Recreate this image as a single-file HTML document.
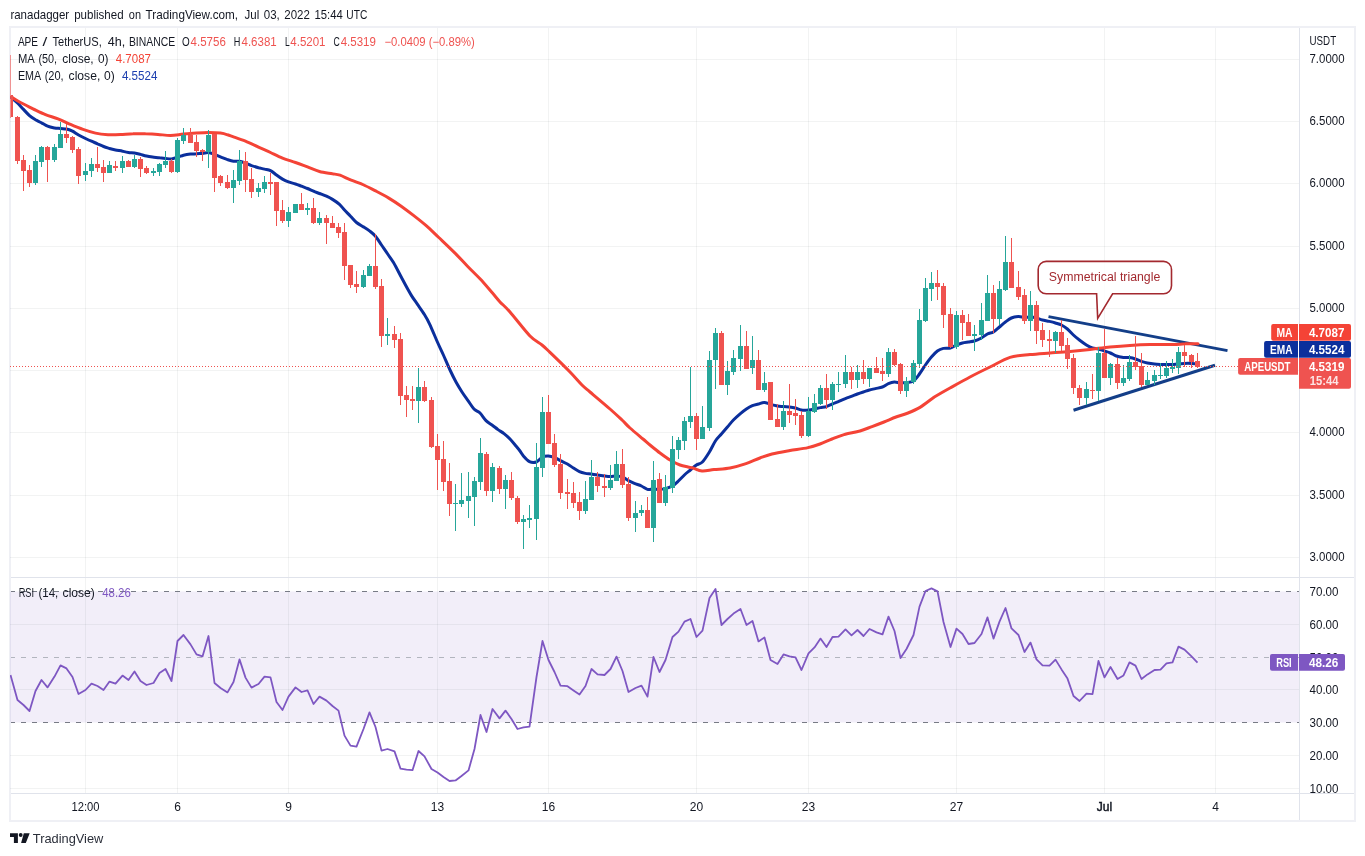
<!DOCTYPE html><html><head><meta charset="utf-8"><title>APEUSDT chart</title>
<style>html,body{margin:0;padding:0;background:#fff;}body{width:1365px;height:856px;overflow:hidden;position:relative;font-family:"Liberation Sans",sans-serif;}svg{position:absolute;left:0;top:0;}text{font-family:"Liberation Sans",sans-serif;}</style></head><body>
<svg width="1365" height="856" viewBox="0 0 1365 856">
<rect width="1365" height="856" fill="#fff"/>
<text y="19" font-size="13" fill="#131722"><tspan x="10.4" textLength="58.8" lengthAdjust="spacingAndGlyphs">ranadagger</tspan> <tspan x="74.2" textLength="49.4" lengthAdjust="spacingAndGlyphs">published</tspan> <tspan x="128.8" textLength="12.2" lengthAdjust="spacingAndGlyphs">on</tspan> <tspan x="145.6" textLength="92.5" lengthAdjust="spacingAndGlyphs">TradingView.com,</tspan> <tspan x="244.5" textLength="14.7" lengthAdjust="spacingAndGlyphs">Jul</tspan> <tspan x="263.8" textLength="16" lengthAdjust="spacingAndGlyphs">03,</tspan> <tspan x="284.3" textLength="25.6" lengthAdjust="spacingAndGlyphs">2022</tspan> <tspan x="314.5" textLength="28.3" lengthAdjust="spacingAndGlyphs">15:44</tspan> <tspan x="346.3" textLength="21" lengthAdjust="spacingAndGlyphs">UTC</tspan></text>
<rect x="10" y="27" width="1345" height="794" fill="#fff" stroke="#eff0f5" stroke-width="2"/>
<defs><clipPath id="pane"><rect x="11" y="28" width="1288" height="765"/></clipPath><clipPath id="main"><rect x="10" y="28" width="1289" height="549"/></clipPath><clipPath id="rsi"><rect x="10" y="578" width="1289" height="215"/></clipPath></defs>
<rect x="10" y="591.5" width="1289" height="131" fill="#7e57c2" fill-opacity="0.1"/>
<g shape-rendering="crispEdges" fill="rgba(42,46,57,0.06)">
<rect x="85" y="28" width="1" height="765" fill-opacity="1"/>
<rect x="177" y="28" width="1" height="765" fill-opacity="1"/>
<rect x="288" y="28" width="1" height="765" fill-opacity="1"/>
<rect x="437" y="28" width="1" height="765" fill-opacity="1"/>
<rect x="548" y="28" width="1" height="765" fill-opacity="1"/>
<rect x="696" y="28" width="1" height="765" fill-opacity="1"/>
<rect x="808" y="28" width="1" height="765" fill-opacity="1"/>
<rect x="956" y="28" width="1" height="765" fill-opacity="1"/>
<rect x="1104" y="28" width="1" height="765" fill-opacity="1"/>
<rect x="1215" y="28" width="1" height="765" fill-opacity="1"/>
<rect x="10" y="59" width="1289" height="1"/>
<rect x="10" y="121" width="1289" height="1"/>
<rect x="10" y="183" width="1289" height="1"/>
<rect x="10" y="246" width="1289" height="1"/>
<rect x="10" y="308" width="1289" height="1"/>
<rect x="10" y="370" width="1289" height="1"/>
<rect x="10" y="432" width="1289" height="1"/>
<rect x="10" y="495" width="1289" height="1"/>
<rect x="10" y="557" width="1289" height="1"/>
<rect x="10" y="624" width="1289" height="1"/>
<rect x="10" y="689" width="1289" height="1"/>
<rect x="10" y="755" width="1289" height="1"/>
<rect x="10" y="788" width="1289" height="1"/>
</g>
<g shape-rendering="crispEdges" fill="#e0e3eb">
<rect x="11" y="577" width="1343" height="1"/>
<rect x="11" y="793" width="1343" height="1"/>
<rect x="1299" y="28" width="1" height="792"/>
</g>
<g shape-rendering="crispEdges" stroke-width="1" stroke-dasharray="5 6" stroke-dashoffset="1">
<line x1="11" x2="1299" y1="591.5" y2="591.5" stroke="#787b86"/>
<line x1="11" x2="1299" y1="657.5" y2="657.5" stroke="#b2b5be"/>
<line x1="11" x2="1299" y1="722.5" y2="722.5" stroke="#787b86"/>
</g>
<g clip-path="url(#main)" fill="none">
<line x1="1048.5" y1="316.6" x2="1227.5" y2="350.6" stroke="#133e88" stroke-width="3" stroke-linecap="butt"/>
<line x1="1073.5" y1="410.2" x2="1215" y2="365.2" stroke="#133e88" stroke-width="3" stroke-linecap="butt"/>
</g>
<g clip-path="url(#main)" fill="none" stroke-linejoin="round" stroke-linecap="round">
<path d="M11.4 97.5 C12.4 98.4 15.6 101.1 17.5 103.0 C19.4 104.9 21.6 107.4 23.5 109.4 C25.4 111.4 27.6 113.9 29.5 115.6 C31.4 117.3 33.6 118.6 35.5 119.8 C37.4 120.9 39.6 121.7 41.5 122.8 C43.4 123.8 45.5 125.4 47.6 126.2 C49.7 127.1 52.4 127.6 54.5 128.0 C56.6 128.4 58.6 128.3 60.5 128.5 C62.4 128.7 64.6 128.6 66.5 129.0 C68.4 129.4 70.6 130.3 72.5 131.2 C74.4 132.2 76.5 133.8 78.6 135.0 C80.7 136.2 83.4 137.5 85.5 138.5 C87.6 139.5 89.6 140.4 91.5 141.2 C93.4 142.1 95.6 142.9 97.5 143.8 C99.4 144.6 101.7 145.7 103.6 146.5 C105.5 147.3 107.6 147.9 109.5 148.5 C111.4 149.1 113.4 149.6 115.5 150.0 C117.6 150.4 120.4 150.8 122.5 151.2 C124.6 151.7 126.6 152.2 128.5 152.5 C130.4 152.8 132.6 152.7 134.5 153.0 C136.4 153.3 138.6 153.9 140.5 154.4 C142.4 154.9 144.6 155.6 146.5 156.0 C148.4 156.4 150.4 156.7 152.5 157.0 C154.6 157.3 157.4 157.5 159.5 157.8 C161.6 158.0 163.6 158.2 165.5 158.4 C167.4 158.6 169.6 159.1 171.5 158.9 C173.4 158.7 175.6 157.8 177.5 157.2 C179.4 156.7 181.4 155.8 183.5 155.2 C185.6 154.7 188.4 154.3 190.5 154.1 C192.6 153.9 194.6 153.9 196.5 153.8 C198.4 153.6 200.6 153.6 202.5 153.4 C204.4 153.2 206.6 152.3 208.5 152.5 C210.4 152.7 212.6 153.7 214.5 154.4 C216.4 155.1 218.4 156.1 220.5 156.9 C222.6 157.7 225.4 158.9 227.5 159.6 C229.6 160.3 231.6 161.0 233.5 161.2 C235.4 161.5 237.6 161.0 239.5 161.2 C241.4 161.5 243.6 162.4 245.5 163.1 C247.4 163.8 249.4 164.9 251.5 165.6 C253.6 166.3 256.4 167.2 258.5 167.8 C260.6 168.3 262.6 168.6 264.5 169.1 C266.4 169.6 268.6 169.7 270.5 170.6 C272.4 171.5 274.6 173.6 276.5 175.0 C278.4 176.4 280.6 178.0 282.5 179.1 C284.4 180.2 286.4 181.1 288.5 181.9 C290.6 182.7 293.4 183.3 295.5 184.0 C297.6 184.7 299.6 185.5 301.5 186.2 C303.4 187.0 305.6 187.7 307.5 188.5 C309.4 189.3 311.6 190.4 313.5 191.2 C315.4 192.1 317.4 192.7 319.5 193.5 C321.6 194.3 324.4 195.3 326.5 196.2 C328.6 197.2 330.4 198.1 332.5 199.4 C334.6 200.7 337.6 202.7 339.5 204.4 C341.4 206.1 342.7 208.1 344.5 210.0 C346.3 211.9 348.6 214.2 350.5 216.2 C352.4 218.2 354.4 220.8 356.5 222.5 C358.6 224.2 361.4 225.6 363.5 226.9 C365.6 228.2 367.6 229.4 369.5 230.9 C371.4 232.4 373.6 234.0 375.5 236.2 C377.4 238.5 379.6 242.2 381.5 245.0 C383.4 247.8 385.6 250.9 387.5 253.8 C389.4 256.6 391.6 259.3 393.5 262.5 C395.4 265.7 397.6 270.1 399.5 273.8 C401.4 277.4 403.6 281.5 405.5 285.0 C407.4 288.5 409.6 292.5 411.5 295.6 C413.4 298.7 415.6 301.6 417.5 304.4 C419.4 307.2 421.6 310.0 423.5 313.1 C425.4 316.2 427.3 319.1 429.5 323.8 C431.7 328.4 435.2 337.0 437.4 342.0 C439.6 347.0 441.4 350.5 443.4 355.0 C445.4 359.5 448.0 365.7 450.0 370.0 C452.0 374.3 454.1 378.5 456.0 382.0 C457.9 385.5 460.1 389.0 462.0 392.0 C463.9 395.0 466.1 397.9 468.0 400.6 C469.9 403.3 472.1 407.0 474.0 409.0 C475.9 411.0 478.1 411.1 480.0 413.0 C481.9 414.9 484.1 418.7 486.0 420.6 C487.9 422.5 490.1 423.6 492.0 425.0 C493.9 426.4 496.1 428.2 498.0 429.6 C499.9 431.0 502.1 432.1 504.0 433.6 C505.9 435.1 508.1 437.0 510.0 439.0 C511.9 441.0 514.4 444.1 516.0 446.0 C517.6 447.9 518.8 449.4 520.0 451.0 C521.2 452.6 521.9 454.3 523.4 456.0 C524.9 457.7 527.3 460.6 529.4 461.6 C531.5 462.6 534.3 462.7 536.4 462.0 C538.5 461.3 540.5 458.0 542.4 457.0 C544.3 456.0 546.5 455.9 548.4 456.0 C550.3 456.1 552.5 456.7 554.4 457.4 C556.3 458.1 558.3 459.5 560.4 460.6 C562.5 461.7 565.3 462.8 567.4 464.0 C569.5 465.2 571.5 466.8 573.4 468.0 C575.3 469.2 577.5 470.7 579.4 471.6 C581.3 472.5 583.5 473.0 585.4 473.4 C587.3 473.8 589.5 473.7 591.4 474.0 C593.3 474.3 595.3 474.7 597.4 475.0 C599.5 475.3 602.3 475.7 604.4 476.0 C606.5 476.3 608.5 476.6 610.4 476.6 C612.3 476.6 614.5 475.9 616.4 476.0 C618.3 476.1 620.5 476.3 622.4 477.0 C624.3 477.7 626.5 479.6 628.4 480.6 C630.3 481.6 632.3 482.5 634.4 483.4 C636.5 484.3 639.3 485.0 641.4 486.0 C643.5 487.0 645.5 488.9 647.4 489.4 C649.3 489.9 651.5 489.0 653.4 489.0 C655.3 489.0 657.5 489.5 659.4 489.4 C661.3 489.3 663.3 489.1 665.4 488.6 C667.5 488.1 670.3 487.2 672.4 486.0 C674.5 484.8 676.5 482.8 678.4 481.0 C680.3 479.2 682.5 476.8 684.4 475.0 C686.3 473.2 688.5 471.6 690.4 470.0 C692.3 468.4 694.5 466.3 696.4 465.0 C698.3 463.7 700.3 464.1 702.4 462.0 C704.5 459.9 707.3 455.4 709.4 452.0 C711.5 448.6 713.5 443.9 715.4 441.0 C717.3 438.1 719.5 436.2 721.4 434.0 C723.3 431.8 725.5 429.2 727.4 427.0 C729.3 424.8 731.3 422.1 733.4 420.0 C735.5 417.9 738.3 415.4 740.4 413.6 C742.5 411.8 744.5 410.3 746.4 409.0 C748.3 407.7 750.5 406.4 752.4 405.6 C754.3 404.8 756.5 404.5 758.4 404.0 C760.3 403.5 762.5 402.3 764.4 402.4 C766.3 402.5 768.3 403.8 770.4 404.4 C772.5 405.0 775.3 405.6 777.4 406.0 C779.5 406.4 781.5 406.4 783.4 406.6 C785.3 406.8 787.5 406.8 789.4 407.0 C791.3 407.2 793.5 407.5 795.4 408.0 C797.3 408.5 799.3 409.7 801.4 410.0 C803.5 410.3 806.3 410.2 808.4 410.0 C810.5 409.8 812.5 409.4 814.4 409.0 C816.3 408.6 818.5 408.0 820.4 407.6 C822.3 407.2 824.5 407.2 826.4 406.6 C828.3 406.0 830.5 404.8 832.4 404.0 C834.3 403.2 836.3 402.5 838.4 401.6 C840.5 400.7 843.3 399.4 845.4 398.6 C847.5 397.8 849.5 397.1 851.4 396.4 C853.3 395.7 855.5 394.7 857.4 394.0 C859.3 393.3 861.5 392.6 863.4 392.0 C865.3 391.4 867.5 390.5 869.4 390.0 C871.3 389.5 873.3 389.1 875.4 388.6 C877.5 388.1 880.3 387.8 882.4 387.0 C884.5 386.2 886.5 384.4 888.4 383.6 C890.3 382.8 892.5 382.1 894.4 382.0 C896.3 381.9 898.5 382.9 900.4 383.0 C902.3 383.1 904.3 382.9 906.4 382.6 C908.5 382.3 911.3 382.4 913.4 381.0 C915.5 379.6 917.5 376.6 919.4 374.0 C921.3 371.4 923.5 367.7 925.4 365.0 C927.3 362.3 929.5 359.2 931.4 357.0 C933.3 354.8 935.5 352.4 937.4 351.0 C939.3 349.6 941.3 348.9 943.4 348.4 C945.5 347.9 948.3 348.5 950.4 348.0 C952.5 347.5 954.5 345.8 956.4 345.0 C958.3 344.2 960.5 343.5 962.4 343.0 C964.3 342.5 966.5 342.3 968.4 342.0 C970.3 341.7 972.3 341.6 974.4 341.0 C976.5 340.4 979.3 339.1 981.4 338.0 C983.5 336.9 985.5 335.0 987.4 334.0 C989.3 333.0 991.5 333.1 993.4 332.0 C995.3 330.9 997.5 328.6 999.4 327.0 C1001.3 325.4 1003.5 323.4 1005.4 322.0 C1007.3 320.6 1009.3 318.9 1011.4 318.0 C1013.5 317.1 1016.3 316.7 1018.4 316.6 C1020.5 316.5 1022.5 317.3 1024.4 317.4 C1026.3 317.5 1028.5 316.9 1030.4 317.0 C1032.3 317.1 1034.5 317.5 1036.4 318.0 C1038.3 318.5 1040.3 319.5 1042.4 320.0 C1044.5 320.5 1047.3 320.9 1049.4 321.4 C1051.5 321.9 1053.5 322.4 1055.4 323.0 C1057.3 323.6 1059.5 324.0 1061.4 325.0 C1063.3 326.0 1065.5 327.4 1067.4 329.0 C1069.3 330.6 1071.5 333.2 1073.4 335.0 C1075.3 336.8 1077.3 338.4 1079.4 340.0 C1081.5 341.6 1084.3 343.7 1086.4 345.0 C1088.5 346.3 1090.5 347.4 1092.4 348.0 C1094.3 348.6 1096.5 348.5 1098.4 349.0 C1100.3 349.5 1102.5 350.4 1104.4 351.0 C1106.3 351.6 1108.5 352.2 1110.4 353.0 C1112.3 353.8 1114.3 355.3 1116.4 356.0 C1118.5 356.7 1121.3 357.1 1123.4 357.4 C1125.5 357.7 1127.5 357.3 1129.4 357.6 C1131.3 357.9 1133.5 358.4 1135.4 359.0 C1137.3 359.6 1139.5 360.8 1141.4 361.4 C1143.3 362.0 1145.3 362.6 1147.4 363.0 C1149.5 363.4 1152.3 363.8 1154.4 364.0 C1156.5 364.2 1158.5 364.3 1160.4 364.4 C1162.3 364.5 1164.5 364.4 1166.4 364.4 C1168.3 364.4 1170.6 364.7 1172.5 364.6 C1174.4 364.5 1176.6 363.9 1178.5 363.8 C1180.4 363.6 1182.4 363.5 1184.5 363.4 C1186.6 363.3 1189.4 363.3 1191.5 363.4 C1193.6 363.5 1196.5 363.7 1197.5 363.8" stroke="#0b2f9c" stroke-width="3"/>
<path d="M11.4 96.9 C12.9 97.8 17.0 100.6 20.5 102.5 C24.0 104.4 29.0 106.8 33.0 108.8 C37.0 110.7 41.5 113.0 45.5 114.6 C49.5 116.2 54.0 117.2 58.0 118.8 C62.0 120.3 66.5 122.7 70.5 124.4 C74.5 126.1 79.0 128.0 83.0 129.4 C87.0 130.8 91.5 132.2 95.5 133.1 C99.5 134.0 104.0 134.5 108.0 134.8 C112.0 135.0 116.5 134.8 120.5 134.6 C124.5 134.4 129.0 133.9 133.0 133.8 C137.0 133.6 141.5 133.6 145.5 133.8 C149.5 133.9 154.0 134.1 158.0 134.4 C162.0 134.7 166.4 135.5 170.5 135.5 C174.6 135.5 179.3 134.5 183.5 134.1 C187.7 133.7 192.5 133.4 196.5 133.1 C200.5 132.8 204.7 132.5 208.5 132.5 C212.3 132.5 217.5 132.7 220.5 133.1 C223.5 133.5 225.4 134.1 227.5 134.8 C229.6 135.4 230.6 135.9 233.5 136.9 C236.4 137.9 241.5 139.6 245.5 141.2 C249.5 142.9 254.5 145.3 258.5 147.1 C262.5 148.9 266.7 150.7 270.5 152.5 C274.3 154.3 278.5 156.5 282.5 158.1 C286.5 159.7 291.5 161.1 295.5 162.5 C299.5 163.9 303.7 165.5 307.5 166.9 C311.3 168.3 315.5 170.4 319.5 171.5 C323.5 172.6 329.2 173.2 332.5 173.8 C335.8 174.3 337.0 174.2 340.0 175.2 C343.0 176.3 347.4 178.7 351.2 180.2 C355.1 181.8 359.8 183.2 363.8 185.0 C367.8 186.8 372.2 189.2 376.2 191.2 C380.2 193.3 384.8 195.7 388.8 198.1 C392.8 200.5 397.2 203.4 401.2 206.2 C405.2 209.1 409.8 212.5 413.8 215.6 C417.8 218.7 422.2 222.1 426.2 225.6 C430.2 229.1 434.1 233.1 438.8 237.5 C443.4 241.9 450.4 248.5 455.0 253.1 C459.6 257.7 463.5 262.1 467.5 266.2 C471.5 270.4 476.0 274.5 480.0 278.8 C484.0 283.0 489.3 289.4 492.5 293.1 C495.7 296.8 497.2 298.9 500.0 301.9 C502.8 304.9 505.2 306.5 510.0 312.0 C514.8 317.5 524.9 330.7 530.0 336.0 C535.1 341.3 538.8 342.4 542.0 345.0 C545.2 347.6 545.5 348.1 550.0 352.4 C554.5 356.7 564.9 366.8 570.0 372.0 C575.1 377.2 578.8 381.8 582.0 385.0 C585.2 388.2 585.5 388.2 590.0 392.0 C594.5 395.8 604.9 404.5 610.0 409.0 C615.1 413.5 618.8 417.0 622.0 420.0 C625.2 423.0 626.6 425.0 630.0 428.0 C633.4 431.0 639.8 436.3 643.0 439.0 C646.2 441.7 647.3 442.8 650.0 445.0 C652.7 447.2 656.8 450.6 660.0 453.0 C663.2 455.4 666.8 458.1 670.0 460.0 C673.2 461.9 677.1 463.9 680.0 465.0 C682.9 466.1 685.9 466.5 688.0 467.0 C690.1 467.5 690.8 467.4 693.0 468.0 C695.2 468.6 698.6 470.7 702.0 471.0 C705.4 471.3 709.5 470.1 714.0 469.6 C718.5 469.1 724.9 469.0 730.0 468.0 C735.1 467.0 741.2 465.2 746.0 463.6 C750.8 462.0 755.8 459.5 760.0 458.0 C764.2 456.5 767.2 455.2 772.0 454.0 C776.8 452.8 784.2 451.6 790.0 450.6 C795.8 449.6 803.2 448.7 808.0 447.6 C812.8 446.5 816.2 445.4 820.0 444.0 C823.8 442.6 828.2 440.5 832.0 439.0 C835.8 437.5 839.5 435.9 844.0 434.6 C848.5 433.3 855.5 432.3 860.0 431.0 C864.5 429.7 868.2 428.0 872.0 426.6 C875.8 425.2 880.2 423.5 884.0 422.0 C887.8 420.5 892.2 418.4 896.0 417.0 C899.8 415.6 904.2 414.5 908.0 413.0 C911.8 411.5 916.0 409.8 920.0 407.4 C924.0 405.0 930.4 399.8 933.0 398.0 C935.6 396.2 933.3 397.6 936.0 396.0 C938.7 394.4 944.6 391.0 950.0 388.0 C955.4 385.0 963.6 380.4 970.0 377.0 C976.4 373.6 983.6 370.1 990.0 367.0 C996.4 363.9 1003.6 359.4 1010.0 357.4 C1016.4 355.4 1023.6 355.3 1030.0 354.6 C1036.4 353.9 1043.6 353.5 1050.0 353.0 C1056.4 352.5 1063.6 352.0 1070.0 351.4 C1076.4 350.8 1083.6 350.1 1090.0 349.4 C1096.4 348.7 1103.6 347.6 1110.0 347.0 C1116.4 346.4 1123.6 345.8 1130.0 345.4 C1136.4 345.0 1143.1 344.7 1150.0 344.6 C1156.9 344.5 1167.4 344.7 1173.0 344.6 C1178.6 344.5 1181.0 343.9 1185.0 343.8 C1189.0 343.6 1195.9 343.8 1198.0 343.8" stroke="#f44336" stroke-width="3"/>
</g>
<g shape-rendering="crispEdges" clip-path="url(#main)">
<rect x="10" y="55" width="1" height="63" fill="#ef5350" fill-opacity="0.6"/>
<rect x="11" y="95" width="2" height="22" fill="#ef5350"/>
<rect x="17" y="116" width="1" height="48" fill="#ef5350"/>
<rect x="15" y="117" width="5" height="44" fill="#ef5350"/>
<rect x="23" y="155" width="1" height="36" fill="#ef5350"/>
<rect x="21" y="160" width="5" height="11" fill="#ef5350"/>
<rect x="29" y="165" width="1" height="22" fill="#ef5350"/>
<rect x="27" y="170" width="5" height="13" fill="#ef5350"/>
<rect x="35" y="155" width="1" height="30" fill="#26a69a"/>
<rect x="33" y="161" width="5" height="22" fill="#26a69a"/>
<rect x="41" y="146" width="1" height="21" fill="#26a69a"/>
<rect x="39" y="147" width="5" height="15" fill="#26a69a"/>
<rect x="47" y="146" width="1" height="36" fill="#ef5350"/>
<rect x="45" y="147" width="5" height="13" fill="#ef5350"/>
<rect x="54" y="144" width="1" height="18" fill="#26a69a"/>
<rect x="52" y="147" width="5" height="13" fill="#26a69a"/>
<rect x="60" y="122" width="1" height="26" fill="#26a69a"/>
<rect x="58" y="134" width="5" height="14" fill="#26a69a"/>
<rect x="66" y="124" width="1" height="19" fill="#ef5350"/>
<rect x="64" y="134" width="5" height="4" fill="#ef5350"/>
<rect x="72" y="136" width="1" height="17" fill="#ef5350"/>
<rect x="70" y="137" width="5" height="13" fill="#ef5350"/>
<rect x="78" y="147" width="1" height="37" fill="#ef5350"/>
<rect x="76" y="149" width="5" height="27" fill="#ef5350"/>
<rect x="85" y="163" width="1" height="18" fill="#26a69a"/>
<rect x="83" y="171" width="5" height="4" fill="#26a69a"/>
<rect x="91" y="158" width="1" height="19" fill="#26a69a"/>
<rect x="89" y="164" width="5" height="7" fill="#26a69a"/>
<rect x="97" y="147" width="1" height="25" fill="#ef5350"/>
<rect x="95" y="164" width="5" height="4" fill="#ef5350"/>
<rect x="103" y="160" width="1" height="22" fill="#ef5350"/>
<rect x="101" y="167" width="5" height="6" fill="#ef5350"/>
<rect x="109" y="161" width="1" height="12" fill="#26a69a"/>
<rect x="107" y="165" width="5" height="8" fill="#26a69a"/>
<rect x="115" y="161" width="1" height="10" fill="#ef5350"/>
<rect x="113" y="166" width="5" height="2" fill="#ef5350"/>
<rect x="122" y="156" width="1" height="17" fill="#26a69a"/>
<rect x="120" y="161" width="5" height="7" fill="#26a69a"/>
<rect x="128" y="160" width="1" height="7" fill="#ef5350"/>
<rect x="126" y="161" width="5" height="6" fill="#ef5350"/>
<rect x="134" y="155" width="1" height="13" fill="#26a69a"/>
<rect x="132" y="159" width="5" height="8" fill="#26a69a"/>
<rect x="140" y="157" width="1" height="20" fill="#ef5350"/>
<rect x="138" y="159" width="5" height="10" fill="#ef5350"/>
<rect x="146" y="166" width="1" height="8" fill="#ef5350"/>
<rect x="144" y="168" width="5" height="5" fill="#ef5350"/>
<rect x="153" y="168" width="1" height="8" fill="#26a69a"/>
<rect x="151" y="171" width="5" height="2" fill="#26a69a"/>
<rect x="159" y="163" width="1" height="13" fill="#26a69a"/>
<rect x="157" y="164" width="5" height="8" fill="#26a69a"/>
<rect x="165" y="151" width="1" height="17" fill="#26a69a"/>
<rect x="163" y="161" width="5" height="4" fill="#26a69a"/>
<rect x="171" y="159" width="1" height="14" fill="#ef5350"/>
<rect x="169" y="161" width="5" height="11" fill="#ef5350"/>
<rect x="177" y="138" width="1" height="35" fill="#26a69a"/>
<rect x="175" y="140" width="5" height="32" fill="#26a69a"/>
<rect x="183" y="128" width="1" height="16" fill="#26a69a"/>
<rect x="181" y="135" width="5" height="6" fill="#26a69a"/>
<rect x="190" y="128" width="1" height="15" fill="#ef5350"/>
<rect x="188" y="135" width="5" height="8" fill="#ef5350"/>
<rect x="196" y="135" width="1" height="22" fill="#ef5350"/>
<rect x="194" y="142" width="5" height="9" fill="#ef5350"/>
<rect x="202" y="149" width="1" height="12" fill="#ef5350"/>
<rect x="200" y="150" width="5" height="2" fill="#ef5350"/>
<rect x="208" y="130" width="1" height="38" fill="#26a69a"/>
<rect x="206" y="135" width="5" height="17" fill="#26a69a"/>
<rect x="214" y="134" width="1" height="58" fill="#ef5350"/>
<rect x="212" y="134" width="5" height="44" fill="#ef5350"/>
<rect x="220" y="175" width="1" height="11" fill="#ef5350"/>
<rect x="218" y="176" width="5" height="7" fill="#ef5350"/>
<rect x="227" y="175" width="1" height="14" fill="#ef5350"/>
<rect x="225" y="182" width="5" height="6" fill="#ef5350"/>
<rect x="233" y="170" width="1" height="33" fill="#26a69a"/>
<rect x="231" y="180" width="5" height="8" fill="#26a69a"/>
<rect x="239" y="150" width="1" height="35" fill="#26a69a"/>
<rect x="237" y="161" width="5" height="20" fill="#26a69a"/>
<rect x="245" y="152" width="1" height="40" fill="#ef5350"/>
<rect x="243" y="161" width="5" height="19" fill="#ef5350"/>
<rect x="251" y="168" width="1" height="30" fill="#ef5350"/>
<rect x="249" y="179" width="5" height="13" fill="#ef5350"/>
<rect x="258" y="183" width="1" height="14" fill="#26a69a"/>
<rect x="256" y="188" width="5" height="4" fill="#26a69a"/>
<rect x="264" y="176" width="1" height="17" fill="#26a69a"/>
<rect x="262" y="182" width="5" height="7" fill="#26a69a"/>
<rect x="270" y="173" width="1" height="22" fill="#ef5350"/>
<rect x="268" y="182" width="5" height="2" fill="#ef5350"/>
<rect x="276" y="182" width="1" height="44" fill="#ef5350"/>
<rect x="274" y="182" width="5" height="29" fill="#ef5350"/>
<rect x="282" y="200" width="1" height="23" fill="#ef5350"/>
<rect x="280" y="210" width="5" height="11" fill="#ef5350"/>
<rect x="288" y="207" width="1" height="20" fill="#26a69a"/>
<rect x="286" y="212" width="5" height="9" fill="#26a69a"/>
<rect x="295" y="204" width="1" height="9" fill="#26a69a"/>
<rect x="293" y="204" width="5" height="9" fill="#26a69a"/>
<rect x="301" y="193" width="1" height="17" fill="#ef5350"/>
<rect x="299" y="204" width="5" height="6" fill="#ef5350"/>
<rect x="307" y="203" width="1" height="12" fill="#26a69a"/>
<rect x="305" y="208" width="5" height="2" fill="#26a69a"/>
<rect x="313" y="198" width="1" height="26" fill="#ef5350"/>
<rect x="311" y="208" width="5" height="15" fill="#ef5350"/>
<rect x="319" y="212" width="1" height="13" fill="#26a69a"/>
<rect x="317" y="218" width="5" height="5" fill="#26a69a"/>
<rect x="326" y="215" width="1" height="29" fill="#ef5350"/>
<rect x="324" y="218" width="5" height="5" fill="#ef5350"/>
<rect x="332" y="216" width="1" height="12" fill="#ef5350"/>
<rect x="330" y="223" width="5" height="5" fill="#ef5350"/>
<rect x="338" y="223" width="1" height="15" fill="#ef5350"/>
<rect x="336" y="227" width="5" height="6" fill="#ef5350"/>
<rect x="344" y="223" width="1" height="57" fill="#ef5350"/>
<rect x="342" y="232" width="5" height="34" fill="#ef5350"/>
<rect x="350" y="265" width="1" height="23" fill="#ef5350"/>
<rect x="348" y="265" width="5" height="20" fill="#ef5350"/>
<rect x="356" y="271" width="1" height="22" fill="#ef5350"/>
<rect x="354" y="284" width="5" height="3" fill="#ef5350"/>
<rect x="363" y="270" width="1" height="18" fill="#26a69a"/>
<rect x="361" y="275" width="5" height="12" fill="#26a69a"/>
<rect x="369" y="264" width="1" height="12" fill="#26a69a"/>
<rect x="367" y="266" width="5" height="10" fill="#26a69a"/>
<rect x="375" y="234" width="1" height="55" fill="#ef5350"/>
<rect x="373" y="266" width="5" height="21" fill="#ef5350"/>
<rect x="381" y="279" width="1" height="68" fill="#ef5350"/>
<rect x="379" y="286" width="5" height="50" fill="#ef5350"/>
<rect x="387" y="318" width="1" height="27" fill="#26a69a"/>
<rect x="385" y="334" width="5" height="2" fill="#26a69a"/>
<rect x="394" y="326" width="1" height="22" fill="#ef5350"/>
<rect x="392" y="334" width="5" height="6" fill="#ef5350"/>
<rect x="400" y="333" width="1" height="72" fill="#ef5350"/>
<rect x="398" y="339" width="5" height="57" fill="#ef5350"/>
<rect x="406" y="386" width="1" height="31" fill="#ef5350"/>
<rect x="404" y="395" width="5" height="5" fill="#ef5350"/>
<rect x="412" y="386" width="1" height="24" fill="#ef5350"/>
<rect x="410" y="399" width="5" height="2" fill="#ef5350"/>
<rect x="418" y="368" width="1" height="55" fill="#26a69a"/>
<rect x="416" y="387" width="5" height="14" fill="#26a69a"/>
<rect x="424" y="381" width="1" height="21" fill="#ef5350"/>
<rect x="422" y="387" width="5" height="14" fill="#ef5350"/>
<rect x="431" y="397" width="1" height="51" fill="#ef5350"/>
<rect x="429" y="400" width="5" height="47" fill="#ef5350"/>
<rect x="437" y="434" width="1" height="56" fill="#ef5350"/>
<rect x="435" y="446" width="5" height="14" fill="#ef5350"/>
<rect x="443" y="441" width="1" height="50" fill="#ef5350"/>
<rect x="441" y="459" width="5" height="23" fill="#ef5350"/>
<rect x="449" y="463" width="1" height="53" fill="#ef5350"/>
<rect x="447" y="481" width="5" height="23" fill="#ef5350"/>
<rect x="455" y="484" width="1" height="47" fill="#26a69a"/>
<rect x="453" y="503" width="5" height="1" fill="#26a69a"/>
<rect x="461" y="473" width="1" height="34" fill="#26a69a"/>
<rect x="459" y="500" width="5" height="4" fill="#26a69a"/>
<rect x="468" y="472" width="1" height="46" fill="#26a69a"/>
<rect x="466" y="496" width="5" height="5" fill="#26a69a"/>
<rect x="474" y="477" width="1" height="49" fill="#26a69a"/>
<rect x="472" y="481" width="5" height="16" fill="#26a69a"/>
<rect x="480" y="438" width="1" height="52" fill="#26a69a"/>
<rect x="478" y="453" width="5" height="29" fill="#26a69a"/>
<rect x="486" y="452" width="1" height="44" fill="#ef5350"/>
<rect x="484" y="454" width="5" height="37" fill="#ef5350"/>
<rect x="492" y="463" width="1" height="39" fill="#26a69a"/>
<rect x="490" y="467" width="5" height="24" fill="#26a69a"/>
<rect x="499" y="466" width="1" height="28" fill="#ef5350"/>
<rect x="497" y="468" width="5" height="21" fill="#ef5350"/>
<rect x="505" y="475" width="1" height="34" fill="#26a69a"/>
<rect x="503" y="480" width="5" height="9" fill="#26a69a"/>
<rect x="511" y="472" width="1" height="28" fill="#ef5350"/>
<rect x="509" y="480" width="5" height="18" fill="#ef5350"/>
<rect x="517" y="496" width="1" height="28" fill="#ef5350"/>
<rect x="515" y="498" width="5" height="24" fill="#ef5350"/>
<rect x="523" y="515" width="1" height="34" fill="#26a69a"/>
<rect x="521" y="519" width="5" height="3" fill="#26a69a"/>
<rect x="529" y="505" width="1" height="23" fill="#26a69a"/>
<rect x="527" y="518" width="5" height="2" fill="#26a69a"/>
<rect x="536" y="443" width="1" height="97" fill="#26a69a"/>
<rect x="534" y="467" width="5" height="52" fill="#26a69a"/>
<rect x="542" y="397" width="1" height="80" fill="#26a69a"/>
<rect x="540" y="412" width="5" height="56" fill="#26a69a"/>
<rect x="548" y="395" width="1" height="49" fill="#ef5350"/>
<rect x="546" y="412" width="5" height="32" fill="#ef5350"/>
<rect x="554" y="434" width="1" height="33" fill="#ef5350"/>
<rect x="552" y="443" width="5" height="22" fill="#ef5350"/>
<rect x="560" y="454" width="1" height="45" fill="#ef5350"/>
<rect x="558" y="464" width="5" height="29" fill="#ef5350"/>
<rect x="567" y="479" width="1" height="30" fill="#ef5350"/>
<rect x="565" y="492" width="5" height="2" fill="#ef5350"/>
<rect x="573" y="482" width="1" height="26" fill="#ef5350"/>
<rect x="571" y="493" width="5" height="10" fill="#ef5350"/>
<rect x="579" y="492" width="1" height="28" fill="#ef5350"/>
<rect x="577" y="502" width="5" height="9" fill="#ef5350"/>
<rect x="585" y="481" width="1" height="33" fill="#26a69a"/>
<rect x="583" y="499" width="5" height="12" fill="#26a69a"/>
<rect x="591" y="460" width="1" height="40" fill="#26a69a"/>
<rect x="589" y="477" width="5" height="23" fill="#26a69a"/>
<rect x="597" y="472" width="1" height="20" fill="#ef5350"/>
<rect x="595" y="477" width="5" height="9" fill="#ef5350"/>
<rect x="604" y="474" width="1" height="23" fill="#ef5350"/>
<rect x="602" y="486" width="5" height="2" fill="#ef5350"/>
<rect x="610" y="465" width="1" height="25" fill="#26a69a"/>
<rect x="608" y="480" width="5" height="8" fill="#26a69a"/>
<rect x="616" y="451" width="1" height="30" fill="#26a69a"/>
<rect x="614" y="464" width="5" height="17" fill="#26a69a"/>
<rect x="622" y="449" width="1" height="39" fill="#ef5350"/>
<rect x="620" y="464" width="5" height="21" fill="#ef5350"/>
<rect x="628" y="477" width="1" height="44" fill="#ef5350"/>
<rect x="626" y="484" width="5" height="34" fill="#ef5350"/>
<rect x="635" y="501" width="1" height="31" fill="#26a69a"/>
<rect x="633" y="513" width="5" height="5" fill="#26a69a"/>
<rect x="641" y="505" width="1" height="11" fill="#26a69a"/>
<rect x="639" y="510" width="5" height="3" fill="#26a69a"/>
<rect x="647" y="497" width="1" height="31" fill="#ef5350"/>
<rect x="645" y="510" width="5" height="18" fill="#ef5350"/>
<rect x="653" y="461" width="1" height="81" fill="#26a69a"/>
<rect x="651" y="480" width="5" height="48" fill="#26a69a"/>
<rect x="659" y="473" width="1" height="30" fill="#ef5350"/>
<rect x="657" y="479" width="5" height="24" fill="#ef5350"/>
<rect x="665" y="475" width="1" height="31" fill="#26a69a"/>
<rect x="663" y="487" width="5" height="16" fill="#26a69a"/>
<rect x="672" y="436" width="1" height="57" fill="#26a69a"/>
<rect x="670" y="449" width="5" height="39" fill="#26a69a"/>
<rect x="678" y="437" width="1" height="22" fill="#26a69a"/>
<rect x="676" y="440" width="5" height="10" fill="#26a69a"/>
<rect x="684" y="417" width="1" height="33" fill="#26a69a"/>
<rect x="682" y="421" width="5" height="20" fill="#26a69a"/>
<rect x="690" y="367" width="1" height="61" fill="#26a69a"/>
<rect x="688" y="416" width="5" height="6" fill="#26a69a"/>
<rect x="696" y="413" width="1" height="37" fill="#ef5350"/>
<rect x="694" y="416" width="5" height="23" fill="#ef5350"/>
<rect x="702" y="406" width="1" height="33" fill="#26a69a"/>
<rect x="700" y="427" width="5" height="12" fill="#26a69a"/>
<rect x="709" y="351" width="1" height="80" fill="#26a69a"/>
<rect x="707" y="360" width="5" height="68" fill="#26a69a"/>
<rect x="715" y="328" width="1" height="61" fill="#26a69a"/>
<rect x="713" y="333" width="5" height="27" fill="#26a69a"/>
<rect x="721" y="331" width="1" height="54" fill="#ef5350"/>
<rect x="719" y="333" width="5" height="52" fill="#ef5350"/>
<rect x="727" y="361" width="1" height="34" fill="#26a69a"/>
<rect x="725" y="371" width="5" height="14" fill="#26a69a"/>
<rect x="733" y="350" width="1" height="25" fill="#26a69a"/>
<rect x="731" y="358" width="5" height="14" fill="#26a69a"/>
<rect x="740" y="325" width="1" height="46" fill="#26a69a"/>
<rect x="738" y="346" width="5" height="13" fill="#26a69a"/>
<rect x="746" y="331" width="1" height="38" fill="#ef5350"/>
<rect x="744" y="346" width="5" height="23" fill="#ef5350"/>
<rect x="752" y="336" width="1" height="38" fill="#26a69a"/>
<rect x="750" y="360" width="5" height="8" fill="#26a69a"/>
<rect x="758" y="350" width="1" height="40" fill="#ef5350"/>
<rect x="756" y="360" width="5" height="30" fill="#ef5350"/>
<rect x="764" y="372" width="1" height="20" fill="#26a69a"/>
<rect x="762" y="383" width="5" height="7" fill="#26a69a"/>
<rect x="770" y="382" width="1" height="38" fill="#ef5350"/>
<rect x="768" y="382" width="5" height="38" fill="#ef5350"/>
<rect x="777" y="404" width="1" height="23" fill="#ef5350"/>
<rect x="775" y="419" width="5" height="8" fill="#ef5350"/>
<rect x="783" y="401" width="1" height="29" fill="#26a69a"/>
<rect x="781" y="411" width="5" height="16" fill="#26a69a"/>
<rect x="789" y="384" width="1" height="39" fill="#ef5350"/>
<rect x="787" y="411" width="5" height="4" fill="#ef5350"/>
<rect x="795" y="399" width="1" height="26" fill="#ef5350"/>
<rect x="793" y="413" width="5" height="3" fill="#ef5350"/>
<rect x="801" y="411" width="1" height="27" fill="#ef5350"/>
<rect x="799" y="415" width="5" height="21" fill="#ef5350"/>
<rect x="808" y="397" width="1" height="40" fill="#26a69a"/>
<rect x="806" y="411" width="5" height="25" fill="#26a69a"/>
<rect x="814" y="394" width="1" height="19" fill="#26a69a"/>
<rect x="812" y="403" width="5" height="9" fill="#26a69a"/>
<rect x="820" y="385" width="1" height="20" fill="#26a69a"/>
<rect x="818" y="388" width="5" height="16" fill="#26a69a"/>
<rect x="826" y="374" width="1" height="35" fill="#ef5350"/>
<rect x="824" y="388" width="5" height="12" fill="#ef5350"/>
<rect x="832" y="382" width="1" height="28" fill="#26a69a"/>
<rect x="830" y="384" width="5" height="16" fill="#26a69a"/>
<rect x="838" y="372" width="1" height="20" fill="#26a69a"/>
<rect x="836" y="384" width="5" height="1" fill="#26a69a"/>
<rect x="845" y="355" width="1" height="33" fill="#26a69a"/>
<rect x="843" y="372" width="5" height="12" fill="#26a69a"/>
<rect x="851" y="367" width="1" height="22" fill="#ef5350"/>
<rect x="849" y="372" width="5" height="8" fill="#ef5350"/>
<rect x="857" y="365" width="1" height="23" fill="#26a69a"/>
<rect x="855" y="372" width="5" height="8" fill="#26a69a"/>
<rect x="863" y="360" width="1" height="24" fill="#ef5350"/>
<rect x="861" y="372" width="5" height="7" fill="#ef5350"/>
<rect x="869" y="368" width="1" height="19" fill="#26a69a"/>
<rect x="867" y="368" width="5" height="11" fill="#26a69a"/>
<rect x="876" y="357" width="1" height="16" fill="#ef5350"/>
<rect x="874" y="368" width="5" height="5" fill="#ef5350"/>
<rect x="882" y="358" width="1" height="23" fill="#ef5350"/>
<rect x="880" y="371" width="5" height="3" fill="#ef5350"/>
<rect x="888" y="348" width="1" height="29" fill="#26a69a"/>
<rect x="886" y="352" width="5" height="22" fill="#26a69a"/>
<rect x="894" y="349" width="1" height="17" fill="#ef5350"/>
<rect x="892" y="352" width="5" height="13" fill="#ef5350"/>
<rect x="900" y="363" width="1" height="31" fill="#ef5350"/>
<rect x="898" y="364" width="5" height="27" fill="#ef5350"/>
<rect x="906" y="377" width="1" height="20" fill="#26a69a"/>
<rect x="904" y="381" width="5" height="10" fill="#26a69a"/>
<rect x="913" y="360" width="1" height="24" fill="#26a69a"/>
<rect x="911" y="363" width="5" height="19" fill="#26a69a"/>
<rect x="919" y="309" width="1" height="59" fill="#26a69a"/>
<rect x="917" y="320" width="5" height="44" fill="#26a69a"/>
<rect x="925" y="278" width="1" height="44" fill="#26a69a"/>
<rect x="923" y="288" width="5" height="33" fill="#26a69a"/>
<rect x="931" y="272" width="1" height="29" fill="#26a69a"/>
<rect x="929" y="283" width="5" height="6" fill="#26a69a"/>
<rect x="937" y="270" width="1" height="30" fill="#ef5350"/>
<rect x="935" y="283" width="5" height="4" fill="#ef5350"/>
<rect x="943" y="283" width="1" height="45" fill="#ef5350"/>
<rect x="941" y="286" width="5" height="29" fill="#ef5350"/>
<rect x="950" y="308" width="1" height="40" fill="#ef5350"/>
<rect x="948" y="314" width="5" height="33" fill="#ef5350"/>
<rect x="956" y="311" width="1" height="38" fill="#26a69a"/>
<rect x="954" y="315" width="5" height="32" fill="#26a69a"/>
<rect x="962" y="310" width="1" height="30" fill="#ef5350"/>
<rect x="960" y="315" width="5" height="8" fill="#ef5350"/>
<rect x="968" y="314" width="1" height="22" fill="#ef5350"/>
<rect x="966" y="322" width="5" height="14" fill="#ef5350"/>
<rect x="974" y="325" width="1" height="26" fill="#26a69a"/>
<rect x="972" y="334" width="5" height="2" fill="#26a69a"/>
<rect x="981" y="303" width="1" height="37" fill="#26a69a"/>
<rect x="979" y="320" width="5" height="15" fill="#26a69a"/>
<rect x="987" y="275" width="1" height="46" fill="#26a69a"/>
<rect x="985" y="293" width="5" height="28" fill="#26a69a"/>
<rect x="993" y="285" width="1" height="48" fill="#ef5350"/>
<rect x="991" y="293" width="5" height="26" fill="#ef5350"/>
<rect x="999" y="281" width="1" height="44" fill="#26a69a"/>
<rect x="997" y="289" width="5" height="30" fill="#26a69a"/>
<rect x="1005" y="236" width="1" height="55" fill="#26a69a"/>
<rect x="1003" y="262" width="5" height="28" fill="#26a69a"/>
<rect x="1011" y="238" width="1" height="50" fill="#ef5350"/>
<rect x="1009" y="262" width="5" height="26" fill="#ef5350"/>
<rect x="1018" y="271" width="1" height="29" fill="#ef5350"/>
<rect x="1016" y="287" width="5" height="10" fill="#ef5350"/>
<rect x="1024" y="289" width="1" height="35" fill="#ef5350"/>
<rect x="1022" y="295" width="5" height="26" fill="#ef5350"/>
<rect x="1030" y="291" width="1" height="40" fill="#26a69a"/>
<rect x="1028" y="305" width="5" height="16" fill="#26a69a"/>
<rect x="1036" y="301" width="1" height="43" fill="#ef5350"/>
<rect x="1034" y="305" width="5" height="26" fill="#ef5350"/>
<rect x="1042" y="323" width="1" height="24" fill="#ef5350"/>
<rect x="1040" y="330" width="5" height="10" fill="#ef5350"/>
<rect x="1049" y="330" width="1" height="27" fill="#ef5350"/>
<rect x="1047" y="339" width="5" height="2" fill="#ef5350"/>
<rect x="1055" y="331" width="1" height="22" fill="#26a69a"/>
<rect x="1053" y="332" width="5" height="9" fill="#26a69a"/>
<rect x="1061" y="320" width="1" height="31" fill="#ef5350"/>
<rect x="1059" y="332" width="5" height="14" fill="#ef5350"/>
<rect x="1067" y="338" width="1" height="31" fill="#ef5350"/>
<rect x="1065" y="345" width="5" height="14" fill="#ef5350"/>
<rect x="1073" y="354" width="1" height="40" fill="#ef5350"/>
<rect x="1071" y="358" width="5" height="30" fill="#ef5350"/>
<rect x="1079" y="385" width="1" height="20" fill="#ef5350"/>
<rect x="1077" y="388" width="5" height="10" fill="#ef5350"/>
<rect x="1086" y="382" width="1" height="23" fill="#26a69a"/>
<rect x="1084" y="389" width="5" height="9" fill="#26a69a"/>
<rect x="1092" y="374" width="1" height="25" fill="#ef5350"/>
<rect x="1090" y="390" width="5" height="1" fill="#ef5350"/>
<rect x="1098" y="347" width="1" height="54" fill="#26a69a"/>
<rect x="1096" y="353" width="5" height="38" fill="#26a69a"/>
<rect x="1104" y="329" width="1" height="49" fill="#ef5350"/>
<rect x="1102" y="353" width="5" height="25" fill="#ef5350"/>
<rect x="1110" y="363" width="1" height="22" fill="#26a69a"/>
<rect x="1108" y="364" width="5" height="14" fill="#26a69a"/>
<rect x="1117" y="358" width="1" height="31" fill="#ef5350"/>
<rect x="1115" y="364" width="5" height="19" fill="#ef5350"/>
<rect x="1123" y="365" width="1" height="21" fill="#26a69a"/>
<rect x="1121" y="378" width="5" height="5" fill="#26a69a"/>
<rect x="1129" y="355" width="1" height="26" fill="#26a69a"/>
<rect x="1127" y="362" width="5" height="17" fill="#26a69a"/>
<rect x="1135" y="336" width="1" height="34" fill="#ef5350"/>
<rect x="1133" y="362" width="5" height="5" fill="#ef5350"/>
<rect x="1141" y="353" width="1" height="34" fill="#ef5350"/>
<rect x="1139" y="366" width="5" height="19" fill="#ef5350"/>
<rect x="1147" y="372" width="1" height="13" fill="#26a69a"/>
<rect x="1145" y="380" width="5" height="5" fill="#26a69a"/>
<rect x="1154" y="370" width="1" height="15" fill="#26a69a"/>
<rect x="1152" y="375" width="5" height="6" fill="#26a69a"/>
<rect x="1160" y="363" width="1" height="16" fill="#26a69a"/>
<rect x="1158" y="375" width="5" height="1" fill="#26a69a"/>
<rect x="1166" y="361" width="1" height="17" fill="#26a69a"/>
<rect x="1164" y="368" width="5" height="8" fill="#26a69a"/>
<rect x="1172" y="359" width="1" height="14" fill="#26a69a"/>
<rect x="1170" y="367" width="5" height="2" fill="#26a69a"/>
<rect x="1178" y="347" width="1" height="27" fill="#26a69a"/>
<rect x="1176" y="352" width="5" height="16" fill="#26a69a"/>
<rect x="1184" y="345" width="1" height="22" fill="#ef5350"/>
<rect x="1182" y="352" width="5" height="4" fill="#ef5350"/>
<rect x="1191" y="354" width="1" height="14" fill="#ef5350"/>
<rect x="1189" y="355" width="5" height="7" fill="#ef5350"/>
<rect x="1197" y="353" width="1" height="15" fill="#ef5350"/>
<rect x="1195" y="361" width="5" height="6" fill="#ef5350"/>
</g>
<line x1="10" x2="1299" y1="366.5" y2="366.5" stroke="#ef5350" stroke-width="1" stroke-dasharray="1 2" shape-rendering="crispEdges"/>
<path d="M1046.2 261.4 H1163.5 a8 8 0 0 1 8 8 V285.8 a8 8 0 0 1 -8 8 H1112.6 L1097.7 318.4 L1096.6 293.8 H1046.2 a8 8 0 0 1 -8 -8 V269.4 a8 8 0 0 1 8 -8 Z" fill="#fff" fill-opacity="0.8" stroke="#a3292f" stroke-width="1.6" stroke-linejoin="miter"/>
<text x="1048.8" y="280.8" font-size="12" fill="#a3292f" textLength="111.5" lengthAdjust="spacingAndGlyphs">Symmetrical triangle</text>
<polyline points="10.5,675.0 17.5,700.0 23.5,705.0 29.5,711.0 35.5,691.0 41.5,680.0 47.5,687.4 54.5,676.6 60.5,665.4 66.5,668.4 72.5,677.0 78.5,694.0 85.5,690.0 91.5,683.6 97.5,686.0 103.5,690.0 109.5,681.6 115.5,683.6 122.5,675.6 128.5,680.0 134.5,671.4 140.5,681.0 146.5,685.0 153.5,683.0 159.5,673.0 165.5,669.0 171.5,681.0 177.5,641.0 183.5,635.0 190.5,644.4 196.5,654.4 202.5,656.4 208.5,636.0 214.5,683.0 220.5,688.0 227.5,692.4 233.5,682.0 239.5,659.4 245.5,677.6 251.5,687.6 258.5,684.0 264.5,676.6 270.5,677.4 276.5,702.0 282.5,710.0 288.5,696.6 295.5,687.4 301.5,692.0 307.5,690.4 313.5,704.0 319.5,696.6 326.5,700.6 332.5,706.0 338.5,710.6 344.5,735.6 350.5,745.6 356.5,746.6 363.5,729.0 369.5,712.4 375.5,727.0 381.5,750.6 387.5,749.0 394.5,751.4 400.5,768.6 406.5,769.6 412.5,770.2 418.5,751.0 424.5,756.4 431.5,769.0 437.5,772.6 443.5,777.0 449.5,781.0 455.5,780.4 461.5,776.0 468.5,770.4 474.5,749.0 480.5,715.0 486.5,732.0 492.5,709.0 499.5,718.4 505.5,710.6 511.5,719.0 517.5,729.0 523.5,727.4 529.5,726.6 536.5,677.0 542.5,641.0 548.5,660.0 554.5,672.0 560.5,685.6 567.5,686.2 573.5,690.4 579.5,694.6 585.5,686.0 591.5,669.0 597.5,674.4 604.5,675.0 610.5,669.0 616.5,656.6 622.5,671.0 628.5,692.0 635.5,688.0 641.5,685.6 647.5,696.6 653.5,657.0 659.5,672.0 665.5,660.0 672.5,637.0 678.5,631.6 684.5,621.6 690.5,619.0 696.5,637.0 702.5,630.6 709.5,598.0 715.5,589.0 721.5,625.0 727.5,619.0 733.5,613.6 740.5,609.0 746.5,625.0 752.5,621.0 758.5,641.4 764.5,637.4 770.5,660.0 777.5,664.0 783.5,654.4 789.5,656.4 795.5,657.4 801.5,670.0 808.5,653.4 814.5,647.4 820.5,638.6 826.5,647.0 832.5,637.0 838.5,636.6 845.5,629.4 851.5,635.4 857.5,630.0 863.5,636.0 869.5,629.0 876.5,632.4 882.5,634.4 888.5,616.6 894.5,631.0 900.5,658.0 906.5,649.0 913.5,635.0 919.5,606.6 925.5,591.0 931.5,588.4 937.5,591.4 943.5,622.0 950.5,647.0 956.5,628.6 962.5,634.0 968.5,644.0 974.5,643.0 981.5,634.0 987.5,617.4 993.5,638.6 999.5,621.6 1005.5,608.0 1011.5,628.4 1018.5,635.0 1024.5,652.0 1030.5,642.6 1036.5,659.4 1042.5,665.4 1049.5,665.6 1055.5,659.6 1061.5,669.4 1067.5,678.6 1073.5,696.0 1079.5,701.0 1086.5,693.6 1092.5,694.2 1098.5,661.0 1104.5,677.4 1110.5,667.0 1117.5,679.0 1123.5,675.4 1129.5,662.4 1135.5,665.6 1141.5,679.0 1147.5,674.4 1154.5,670.0 1160.5,669.6 1166.5,663.4 1172.5,662.4 1178.5,646.6 1184.5,649.6 1191.5,656.4 1197.5,662.6" fill="none" stroke="#7e57c2" stroke-width="1.8" stroke-linejoin="round" clip-path="url(#rsi)"/>
<text y="45.8" font-size="12" fill="#131722"><tspan x="17.9" textLength="20.2" lengthAdjust="spacingAndGlyphs">APE</tspan> <tspan x="42.5" textLength="4.8" lengthAdjust="spacingAndGlyphs">/</tspan> <tspan x="52.5" textLength="49.3" lengthAdjust="spacingAndGlyphs">TetherUS,</tspan> <tspan x="107.7" textLength="17.5" lengthAdjust="spacingAndGlyphs">4h,</tspan> <tspan x="128.9" textLength="46.2" lengthAdjust="spacingAndGlyphs">BINANCE</tspan></text>
<text x="182.1" y="45.8" font-size="12" fill="#131722" textLength="7.7" lengthAdjust="spacingAndGlyphs">O</text>
<text x="190.6" y="45.8" font-size="12" fill="#ef5350" textLength="35.2" lengthAdjust="spacingAndGlyphs">4.5756</text>
<text x="233.8" y="45.8" font-size="12" fill="#131722" textLength="6.6" lengthAdjust="spacingAndGlyphs">H</text>
<text x="241.5" y="45.8" font-size="12" fill="#ef5350" textLength="35.2" lengthAdjust="spacingAndGlyphs">4.6381</text>
<text x="284.9" y="45.8" font-size="12" fill="#131722" textLength="4.7" lengthAdjust="spacingAndGlyphs">L</text>
<text x="290.3" y="45.8" font-size="12" fill="#ef5350" textLength="35.2" lengthAdjust="spacingAndGlyphs">4.5201</text>
<text x="333.6" y="45.8" font-size="12" fill="#131722" textLength="6.3" lengthAdjust="spacingAndGlyphs">C</text>
<text x="340.7" y="45.8" font-size="12" fill="#ef5350" textLength="35.2" lengthAdjust="spacingAndGlyphs">4.5319</text>
<text x="384.5" y="45.8" font-size="12" fill="#ef5350" textLength="90.2" lengthAdjust="spacingAndGlyphs">−0.0409 (−0.89%)</text>
<text y="62.6" font-size="12" fill="#131722"><tspan x="17.9" textLength="16.2" lengthAdjust="spacingAndGlyphs">MA</tspan> <tspan x="38.4" textLength="18.7" lengthAdjust="spacingAndGlyphs">(50,</tspan> <tspan x="62.3" textLength="31.4" lengthAdjust="spacingAndGlyphs">close,</tspan> <tspan x="97.9" textLength="10.5" lengthAdjust="spacingAndGlyphs">0)</tspan></text>
<text x="115.8" y="62.6" font-size="12" fill="#f44336" textLength="35.1" lengthAdjust="spacingAndGlyphs">4.7087</text>
<text y="79.8" font-size="12" fill="#131722"><tspan x="17.9" textLength="22.7" lengthAdjust="spacingAndGlyphs">EMA</tspan> <tspan x="44.7" textLength="19.0" lengthAdjust="spacingAndGlyphs">(20,</tspan> <tspan x="68.6" textLength="31.7" lengthAdjust="spacingAndGlyphs">close,</tspan> <tspan x="104" textLength="10.7" lengthAdjust="spacingAndGlyphs">0)</tspan></text>
<text x="121.9" y="79.8" font-size="12" fill="#1e40b0" textLength="35.5" lengthAdjust="spacingAndGlyphs">4.5524</text>
<text y="596.7" font-size="12" fill="#131722"><tspan x="18.7" textLength="15.4" lengthAdjust="spacingAndGlyphs">RSI</tspan> <tspan x="38.5" textLength="19.8" lengthAdjust="spacingAndGlyphs">(14,</tspan> <tspan x="62.6" textLength="32.2" lengthAdjust="spacingAndGlyphs">close)</tspan></text>
<text x="102.2" y="596.7" font-size="12" fill="#7e57c2" textLength="28.6" lengthAdjust="spacingAndGlyphs">48.26</text>
<text x="1309.5" y="44.7" font-size="12" fill="#131722" textLength="26.6" lengthAdjust="spacingAndGlyphs">USDT</text>
<text x="1309.5" y="63.3" font-size="12" fill="#131722" textLength="35" lengthAdjust="spacingAndGlyphs">7.0000</text>
<text x="1309.5" y="125.3" font-size="12" fill="#131722" textLength="35" lengthAdjust="spacingAndGlyphs">6.5000</text>
<text x="1309.5" y="187.3" font-size="12" fill="#131722" textLength="35" lengthAdjust="spacingAndGlyphs">6.0000</text>
<text x="1309.5" y="250.3" font-size="12" fill="#131722" textLength="35" lengthAdjust="spacingAndGlyphs">5.5000</text>
<text x="1309.5" y="312.3" font-size="12" fill="#131722" textLength="35" lengthAdjust="spacingAndGlyphs">5.0000</text>
<text x="1309.5" y="374.3" font-size="12" fill="#131722" textLength="35" lengthAdjust="spacingAndGlyphs">4.5000</text>
<text x="1309.5" y="436.3" font-size="12" fill="#131722" textLength="35" lengthAdjust="spacingAndGlyphs">4.0000</text>
<text x="1309.5" y="499.3" font-size="12" fill="#131722" textLength="35" lengthAdjust="spacingAndGlyphs">3.5000</text>
<text x="1309.5" y="561.3" font-size="12" fill="#131722" textLength="35" lengthAdjust="spacingAndGlyphs">3.0000</text>
<text x="1309.5" y="595.8" font-size="12" fill="#131722" textLength="29" lengthAdjust="spacingAndGlyphs">70.00</text>
<text x="1309.5" y="628.8" font-size="12" fill="#131722" textLength="29" lengthAdjust="spacingAndGlyphs">60.00</text>
<text x="1309.5" y="661.8" font-size="12" fill="#131722" textLength="29" lengthAdjust="spacingAndGlyphs">50.00</text>
<text x="1309.5" y="693.8" font-size="12" fill="#131722" textLength="29" lengthAdjust="spacingAndGlyphs">40.00</text>
<text x="1309.5" y="726.8" font-size="12" fill="#131722" textLength="29" lengthAdjust="spacingAndGlyphs">30.00</text>
<text x="1309.5" y="759.8" font-size="12" fill="#131722" textLength="29" lengthAdjust="spacingAndGlyphs">20.00</text>
<text x="1309.5" y="792.8" font-size="12" fill="#131722" textLength="29" lengthAdjust="spacingAndGlyphs">10.00</text>
<text x="85.5" y="810.6" font-size="12" fill="#131722" textLength="28" lengthAdjust="spacingAndGlyphs" text-anchor="middle">12:00</text>
<text x="177.5" y="810.6" font-size="12" fill="#131722" text-anchor="middle">6</text>
<text x="288.5" y="810.6" font-size="12" fill="#131722" text-anchor="middle">9</text>
<text x="437.5" y="810.6" font-size="12" fill="#131722" text-anchor="middle">13</text>
<text x="548.5" y="810.6" font-size="12" fill="#131722" text-anchor="middle">16</text>
<text x="696.5" y="810.6" font-size="12" fill="#131722" text-anchor="middle">20</text>
<text x="808.5" y="810.6" font-size="12" fill="#131722" text-anchor="middle">23</text>
<text x="956.5" y="810.6" font-size="12" fill="#131722" text-anchor="middle">27</text>
<text x="1104.5" y="810.6" font-size="12" fill="#131722" text-anchor="middle" stroke="#131722" stroke-width="0.45">Jul</text>
<text x="1215.5" y="810.6" font-size="12" fill="#131722" text-anchor="middle">4</text>
<path d="M1273.2 324 H1298 V340.7 H1273.2 a2 2 0 0 1 -2 -2 V326 a2 2 0 0 1 2 -2 Z" fill="#f44336"/>
<path d="M1299 324 H1349 a2 2 0 0 1 2 2 V338.7 a2 2 0 0 1 -2 2 H1299 Z" fill="#f44336"/>
<text x="1276.4" y="336.5" font-size="12" fill="#fff" textLength="16.1" lengthAdjust="spacingAndGlyphs" font-weight="bold">MA</text>
<text x="1308.9" y="336.5" font-size="12" fill="#fff" textLength="35.5" lengthAdjust="spacingAndGlyphs" font-weight="bold">4.7087</text>
<path d="M1266.1 340.9 H1298 V357.8 H1266.1 a2 2 0 0 1 -2 -2 V342.9 a2 2 0 0 1 2 -2 Z" fill="#0b2f9c"/>
<path d="M1299 340.9 H1349 a2 2 0 0 1 2 2 V355.8 a2 2 0 0 1 -2 2 H1299 Z" fill="#0b2f9c"/>
<text x="1270" y="353.5" font-size="12" fill="#fff" textLength="22.5" lengthAdjust="spacingAndGlyphs" font-weight="bold">EMA</text>
<text x="1308.9" y="353.5" font-size="12" fill="#fff" textLength="35.5" lengthAdjust="spacingAndGlyphs" font-weight="bold">4.5524</text>
<path d="M1240.1 358.1 H1298 V374.8 H1240.1 a2 2 0 0 1 -2 -2 V360.1 a2 2 0 0 1 2 -2 Z" fill="#ef5350"/>
<path d="M1299 358.1 H1349 a2 2 0 0 1 2 2 V386.8 a2 2 0 0 1 -2 2 H1299 Z" fill="#ef5350"/>
<text x="1244.3" y="370.6" font-size="12" fill="#fff" textLength="46.1" lengthAdjust="spacingAndGlyphs" font-weight="bold">APEUSDT</text>
<text x="1308.9" y="370.6" font-size="12" fill="#fff" textLength="35.5" lengthAdjust="spacingAndGlyphs" font-weight="bold">4.5319</text>
<text x="1309.7" y="384.5" font-size="12" fill="#fff" textLength="28.7" lengthAdjust="spacingAndGlyphs" font-weight="bold" fill-opacity="0.85">15:44</text>
<path d="M1272 654 H1298 V670.8 H1272 a2 2 0 0 1 -2 -2 V656 a2 2 0 0 1 2 -2 Z" fill="#7e57c2"/>
<path d="M1299 654 H1343 a2 2 0 0 1 2 2 V668.8 a2 2 0 0 1 -2 2 H1299 Z" fill="#7e57c2"/>
<text x="1276.2" y="666.5" font-size="12" fill="#fff" textLength="15.5" lengthAdjust="spacingAndGlyphs" font-weight="bold">RSI</text>
<text x="1308.9" y="666.5" font-size="12" fill="#fff" textLength="29.4" lengthAdjust="spacingAndGlyphs" font-weight="bold">48.26</text>
<g fill="#131722"><path d="M10 833.3 H17.9 V842.9 H13.9 V836.9 H10 Z"/><circle cx="20.7" cy="834.95" r="1.95"/><path d="M23.8 833.3 H29.7 L25.8 842.9 H21.1 Z"/></g>
<text x="32.8" y="842.9" font-size="13" fill="#2a2e39" textLength="70.5" lengthAdjust="spacingAndGlyphs">TradingView</text>
</svg></body></html>
